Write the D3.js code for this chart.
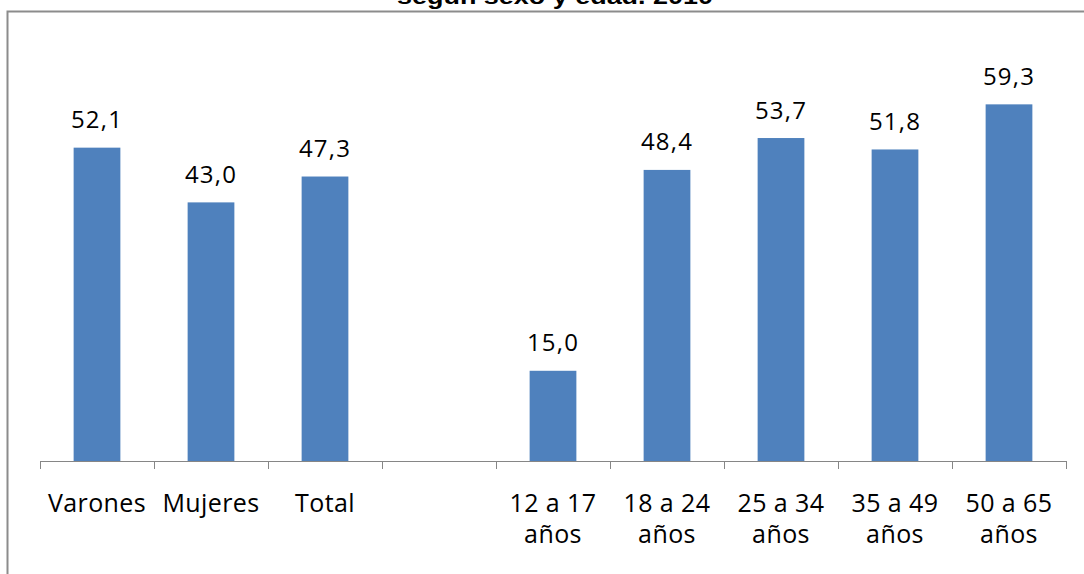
<!DOCTYPE html>
<html><head><meta charset="utf-8">
<script src="https://cdn.jsdelivr.net/npm/d3@7"></script>
<style>html,body{margin:0;padding:0;background:#fff;overflow:hidden}</style>
</head><body>
<svg id="c" width="1084" height="574"></svg>
<script>
const categories = ["Varones", "Mujeres", "Total", "", "12 a 17 años", "18 a 24 años", "25 a 34 años", "35 a 49 años", "50 a 65 años"];
const values = [52.1, 43.0, 47.3, null, 15.0, 48.4, 53.7, 51.8, 59.3];
const title = "según sexo y edad. 2010";

const svg = d3.select("#c");
const x = d3.scaleBand().domain(categories.map((d,i)=>i)).range([40, 1066]).paddingInner(0.59).paddingOuter(0.295);
const y = d3.scaleLinear().domain([0, 70]).range([461, 40]);

// frame
svg.append("path").attr("d","M7.5,574 L7.5,11.5 L1084,11.5").attr("fill","none").attr("stroke","#8c8c8c").attr("stroke-width",2);
svg.append("text").attr("x",555).attr("y",4).attr("text-anchor","middle")
  .attr("font-family","Liberation Sans, Arial").attr("font-weight","bold").attr("font-size",22)
  .attr("textLength",316).attr("lengthAdjust","spacingAndGlyphs").attr("fill","#000").text(title);

const data = categories.map((c,i)=>({c,i,v:values[i]}));
svg.selectAll("rect.bar").data(data.filter(d=>d.v!=null)).join("rect").attr("class","bar")
  .attr("x",d=>x(d.i)).attr("width",x.bandwidth()).attr("y",d=>y(d.v)).attr("height",d=>y(0)-y(d.v)).attr("fill","#4F81BD");

svg.selectAll("text.val").data(data.filter(d=>d.v!=null)).join("text").attr("class","val")
  .attr("x",d=>x(d.i)+x.bandwidth()/2).attr("y",d=>y(d.v)-19.5).attr("text-anchor","middle")
  .attr("font-family","Open Sans, sans-serif").attr("font-size",24).attr("letter-spacing",1.2).attr("fill","#000")
  .text(d=>d3.format(".1f")(d.v).replace(".",","));

// axis
svg.append("line").attr("x1",40).attr("x2",1066).attr("y1",461.5).attr("y2",461.5).attr("stroke","#868686");
d3.range(categories.length+1).forEach(k=>{
  const tx = Math.round(40 + k*x.step())+0.5;
  svg.append("line").attr("x1",tx).attr("x2",tx).attr("y1",461).attr("y2",469).attr("stroke","#868686");
});
const lab = svg.selectAll("text.cat").data(data).join("text").attr("class","cat")
  .attr("text-anchor","middle").attr("font-family","Open Sans, sans-serif").attr("font-size",25).attr("letter-spacing",0.4).attr("fill","#000");
lab.each(function(d){
  const cx = x(d.i)+x.bandwidth()/2;
  const parts = d.c.includes("años") ? [d.c.replace(" años",""), "años"] : [d.c];
  parts.forEach((p,j)=>d3.select(this).append("tspan").attr("x",cx).attr("y",512+j*31).text(p));
});
</script>
</body></html>
